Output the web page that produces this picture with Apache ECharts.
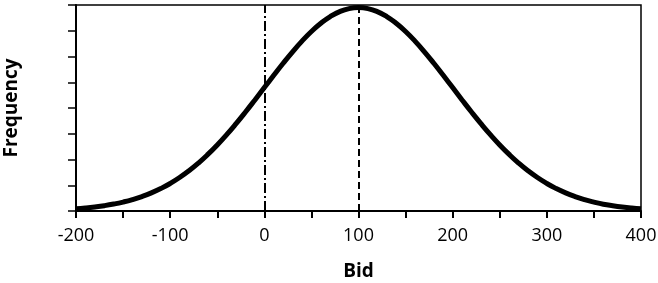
<!DOCTYPE html>
<html>
<head>
<meta charset="utf-8">
<script src="https://cdn.jsdelivr.net/npm/echarts@6/dist/echarts.min.js"></script>
<style>html,body{margin:0;padding:0;background:#fff}#c{width:658px;height:283px}</style>
</head>
<body>
<div id="c"></div>
<script>
const bids = [-200,-190,-180,-170,-160,-150,-140,-130,-120,-110,-100,-90,-80,-70,-60,-50,-40,-30,-20,-10,0,10,20,30,40,50,60,70,80,90,100,110,120,130,140,150,160,170,180,190,200,210,220,230,240,250,260,270,280,290,300,310,320,330,340,350,360,370,380,390,400];
const frequency = [0.088,0.118,0.157,0.206,0.269,0.347,0.443,0.561,0.702,0.871,1.069,1.299,1.563,1.862,2.197,2.565,2.965,3.394,3.845,4.314,4.792,5.269,5.737,6.183,6.599,6.972,7.293,7.552,7.744,7.861,7.900,7.861,7.744,7.552,7.293,6.972,6.599,6.183,5.737,5.269,4.792,4.314,3.845,3.394,2.965,2.565,2.197,1.862,1.563,1.299,1.069,0.871,0.702,0.561,0.443,0.347,0.265,0.206,0.157,0.118,0.088];
const refDashDot = 0;
const refDashed = 100;
const xTicks = [-200,-100,0,100,200,300,400];

const chart = echarts.init(document.getElementById('c'));
chart.setOption({
  animation: false,
  grid: {left: 76, right: 17, top: 5, bottom: 72, containLabel: false, outerBoundsMode: 'none',
    show: true, borderColor: '#000', borderWidth: 1.5, backgroundColor: 'transparent'},
  xAxis: {
    type: 'value', min: -200, max: 400, interval: 50,
    name: 'Bid', nameLocation: 'middle', nameGap: 51,
    nameTextStyle: {fontFamily: 'Open Sans', fontWeight: 'bold', fontSize: 19, color: '#000'},
    axisLine: {show: true, onZero: false, lineStyle: {color: '#000', width: 2}},
    axisTick: {show: true, length: 7, inside: false, lineStyle: {color: '#000', width: 2}},
    axisLabel: {margin: 16, fontFamily: 'Open Sans', fontSize: 18, color: '#000',
      formatter: v => xTicks.indexOf(v) >= 0 ? String(v) : ''},
    splitLine: {show: false}
  },
  yAxis: {
    type: 'value', min: 0, max: 8, interval: 1,
    name: 'Frequency', nameLocation: 'middle', nameGap: 55,
    nameTextStyle: {fontFamily: 'Open Sans', fontWeight: 'bold', fontSize: 19, color: '#000'},
    axisLine: {show: true, onZero: false, lineStyle: {color: '#000', width: 2}},
    axisTick: {show: true, length: 8, lineStyle: {color: '#000', width: 1.5}},
    axisLabel: {show: false},
    splitLine: {show: false}
  },
  series: [{
    type: 'line', smooth: true, showSymbol: false,
    data: bids.map((b, i) => [b, frequency[i]]),
    lineStyle: {color: '#000', width: 5},
    z: 3,
    markLine: {
      silent: true, symbol: 'none', label: {show: false},
      data: [
        [{coord: [refDashDot, 0], lineStyle: {color: '#000', width: 2, type: [10, 3, 2, 3]}}, {coord: [refDashDot, 8]}],
        [{coord: [refDashed, 0], lineStyle: {color: '#000', width: 2, type: [7, 4]}}, {coord: [refDashed, 8]}]
      ]
    }
  }]
});
</script>
</body>
</html>
